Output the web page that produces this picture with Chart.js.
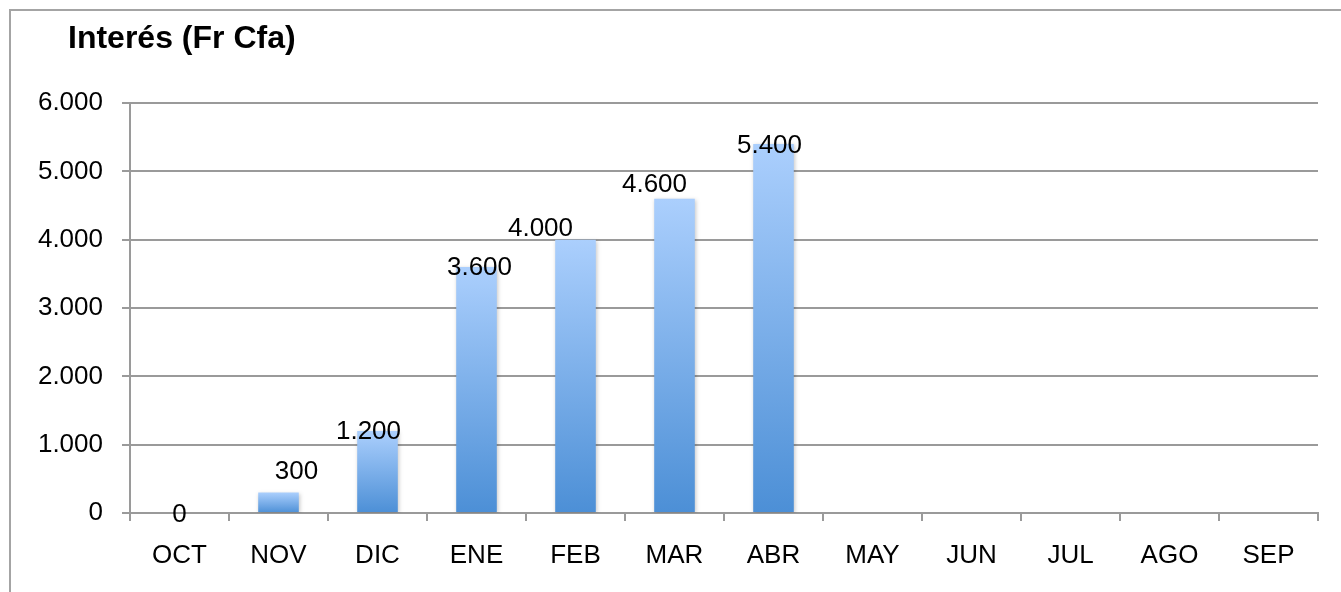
<!DOCTYPE html>
<html>
<head>
<meta charset="utf-8">
<title>Interés (Fr Cfa)</title>
<script src="https://cdn.jsdelivr.net/npm/chart.js@4.4.0/dist/chart.umd.min.js"></script>
<style>
  html, body { margin: 0; padding: 0; background: #fff; }
  #wrap { width: 1341px; height: 592px; }
</style>
</head>
<body>
<div id="wrap"><canvas id="myChart" width="1341" height="592"></canvas></div>
<script>
const chartTitle = 'Interés (Fr Cfa)';
const months = ['OCT', 'NOV', 'DIC', 'ENE', 'FEB', 'MAR', 'ABR', 'MAY', 'JUN', 'JUL', 'AGO', 'SEP'];
const interest = [0, 300, 1200, 3600, 4000, 4600, 5400, null, null, null, null, null];
const yTicks = [0, 1000, 2000, 3000, 4000, 5000, 6000];

// where Excel left each value label, relative to the top of its bar
const labelShiftX = [0, 18, -9, 3, -35, -20, -4];
const labelShiftY = [2, -21, 1, 1, -11, -14, 2];

const fontFamily = '"Liberation Sans", Arial, Helvetica, sans-serif';
const gridColor = '#9a9a9a';

function formatNumber(v) {
  return String(v).replace(/\B(?=(\d{3})+(?!\d))/g, '.');
}

function barGradient(context) {
  const chart = context.chart;
  const yScale = chart.scales.y;
  if (!chart.chartArea || !yScale || context.raw == null) {
    return '#7fb0ea';
  }
  const top = yScale.getPixelForValue(context.raw);
  const bottom = yScale.getPixelForValue(0);
  if (bottom - top < 1) {
    return '#a9cdfc';
  }
  const g = chart.ctx.createLinearGradient(0, top, 0, bottom);
  g.addColorStop(0, '#abcffd');
  g.addColorStop(1, '#4c8fd6');
  return g;
}

const framePlugin = {
  id: 'frame',
  beforeDraw(chart) {
    const c = chart.ctx;
    c.save();
    c.fillStyle = '#fff';
    c.fillRect(0, 0, chart.width, chart.height);
    c.strokeStyle = '#a4a4a4';
    c.lineWidth = 2;
    c.strokeRect(10, 10, chart.width + 100, chart.height + 100);
    c.fillStyle = '#000';
    c.font = 'bold 32px ' + fontFamily;
    c.textAlign = 'left';
    c.textBaseline = 'alphabetic';
    c.fillText(chartTitle, 68, 48);
    c.restore();
  },
};

const shadowPlugin = {
  id: 'barShadow',
  beforeDatasetsDraw(chart) {
    const c = chart.ctx;
    c.save();
    c.shadowColor = 'rgba(0, 0, 0, 0.22)';
    c.shadowBlur = 4;
    c.shadowOffsetX = 1;
    c.shadowOffsetY = 1;
  },
  afterDatasetsDraw(chart) {
    chart.ctx.restore();
  },
};

const valueLabelPlugin = {
  id: 'valueLabels',
  afterDatasetsDraw(chart) {
    const c = chart.ctx;
    const meta = chart.getDatasetMeta(0);
    c.save();
    c.fillStyle = '#000';
    c.font = '26px ' + fontFamily;
    c.textAlign = 'center';
    c.textBaseline = 'middle';
    meta.data.forEach((bar, i) => {
      const v = interest[i];
      if (v == null) return;
      c.fillText(formatNumber(v), bar.x + (labelShiftX[i] || 0), bar.y + (labelShiftY[i] || 0));
    });
    c.restore();
  },
};

const ctx = document.getElementById('myChart').getContext('2d');

const myChart = new Chart(ctx, {
  type: 'bar',
  data: {
    labels: months,
    datasets: [
      {
        label: chartTitle,
        data: interest,
        backgroundColor: barGradient,
        borderWidth: 0,
        categoryPercentage: 1,
        barPercentage: 0.41,
      },
    ],
  },
  options: {
    responsive: false,
    animation: false,
    layout: {
      padding: { top: 103, right: 23, bottom: 0, left: 0 },
    },
    plugins: {
      legend: { display: false },
      tooltip: { enabled: false },
      title: { display: false },
    },
    scales: {
      x: {
        grid: {
          display: true,
          drawOnChartArea: false,
          drawTicks: true,
          tickLength: 8,
          color: gridColor,
          lineWidth: 2,
          offset: true,
        },
        border: { display: true, color: gridColor, width: 2 },
        ticks: {
          color: '#000',
          font: { family: fontFamily, size: 26 },
          padding: 19,
          maxRotation: 0,
          autoSkip: false,
        },
        afterFit(scale) {
          scale.height = 79;
        },
      },
      y: {
        min: 0,
        max: 6000,
        afterBuildTicks(scale) {
          scale.ticks = yTicks.map((v) => ({ value: v }));
        },
        grid: {
          color: gridColor,
          lineWidth: 2,
          drawTicks: true,
          tickLength: 8,
        },
        border: { display: true, color: gridColor, width: 2 },
        ticks: {
          color: '#000',
          font: { family: fontFamily, size: 26 },
          padding: 19,
          callback: (v) => formatNumber(v),
        },
        afterFit(scale) {
          scale.width = 130;
        },
      },
    },
  },
  plugins: [framePlugin, shadowPlugin, valueLabelPlugin],
});
</script>
</body>
</html>
